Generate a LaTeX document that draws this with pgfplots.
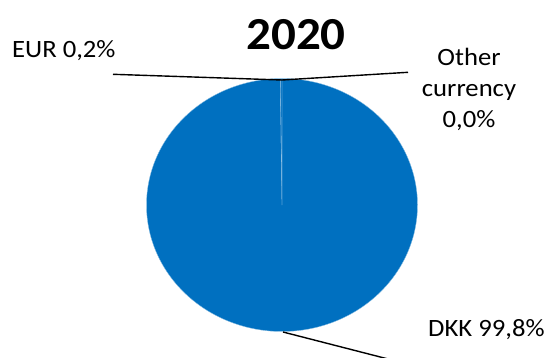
\documentclass[border=0pt]{standalone}
\usepackage{pgfplots}
\pgfplotsset{compat=1.18}
\usepackage{fontspec}
\setmainfont{Carlito}[FakeStretch=1.07]
\definecolor{pieblue}{RGB}{0,112,192}
\begin{document}
\begin{tikzpicture}
% shares in percent
\def\dkk{99.8}
\def\eur{0.2}
\def\oth{0.0}
\pgfmathsetmacro{\aA}{0}
\pgfmathsetmacro{\aB}{3.6*\dkk}
\pgfmathsetmacro{\aC}{3.6*(\dkk+\eur)}
\def\cx{282}\def\cy{205}\def\rx{135.5}\def\ry{126.5}
\begin{axis}[
  width=554bp, height=358bp, scale only axis,
  xmin=0, xmax=554, ymin=0, ymax=358, y dir=reverse,
  hide axis, clip=false,
]
% DKK slice
\addplot[fill=pieblue, draw=white!55!pieblue, line width=0.35bp, domain=\aA:\aB, samples=361, smooth]
  ({\cx+\rx*sin(x)},{\cy-\ry*cos(x)}) -- (axis cs:\cx,\cy) -- cycle;
% EUR slice
\addplot[fill=pieblue, draw=white!55!pieblue, line width=0.35bp, domain=\aB:\aC, samples=5]
  ({\cx+\rx*sin(x)},{\cy-\ry*cos(x)}) -- (axis cs:\cx,\cy) -- cycle;
% leader lines
\addplot[black, line width=1.4bp] coordinates {(113,74.3) (282,80)};
\addplot[black, line width=1.4bp] coordinates {(282,80) (408,72.3)};
\addplot[black, line width=1.4bp] coordinates {(283,332) (392,360)};
% labels
\node[anchor=base, inner sep=0pt, font=\fontsize{46}{55}\selectfont\bfseries] at (axis cs:296,49) {2020};
\node[anchor=base west, inner sep=0pt, font=\fontsize{25}{30}\selectfont] at (axis cs:12,57.7) {EUR 0,2\%};
\node[anchor=base, inner sep=0pt, font=\fontsize{25}{30}\selectfont] at (axis cs:469,65) {Other};
\node[anchor=base, inner sep=0pt, font=\fontsize{25}{30}\selectfont] at (axis cs:469,96.5) {currency};
\node[anchor=base, inner sep=0pt, font=\fontsize{25}{30}\selectfont] at (axis cs:469,127) {0,0\%};
\node[anchor=base west, inner sep=0pt, font=\fontsize{25}{30}\selectfont] at (axis cs:428,336) {DKK 99,8\%};
\end{axis}
\pgfresetboundingbox
\path (current axis.south west) rectangle (current axis.north east);
\end{tikzpicture}
\end{document}
